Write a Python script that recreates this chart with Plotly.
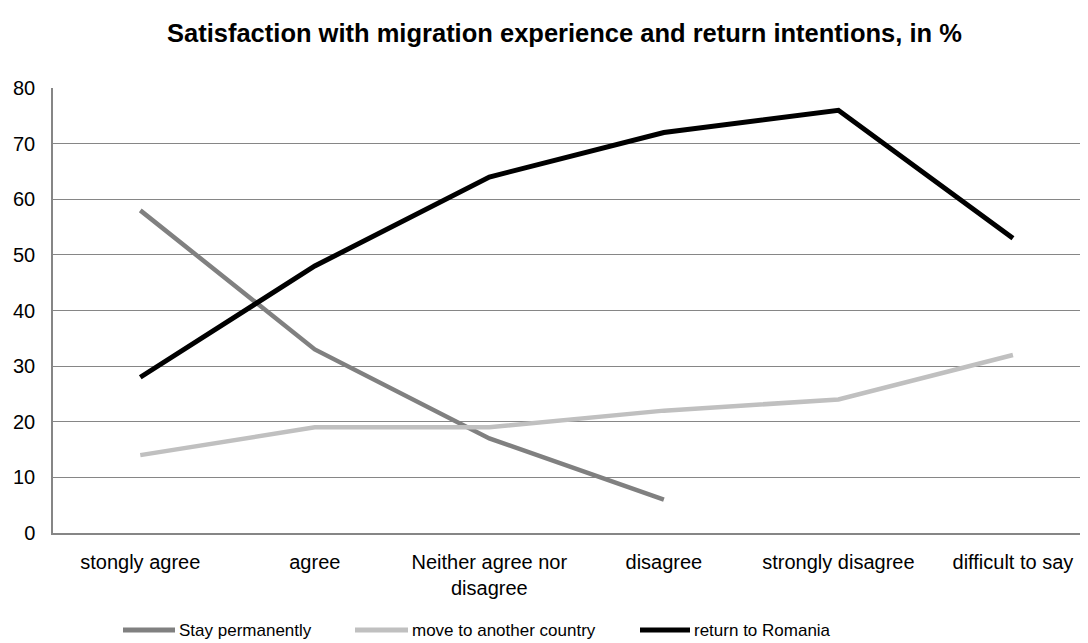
import plotly.graph_objects as go

categories = ["stongly agree", "agree", "Neither agree nor<br>disagree", "disagree",
              "strongly disagree", "difficult to say"]
stay_permanently = [58, 33, 17, 6, None, None]
move_another = [14, 19, 19, 22, 24, 32]
return_romania = [28, 48, 64, 72, 76, 53]
y_ticks = [0, 10, 20, 30, 40, 50, 60, 70, 80]

series_names = ["Stay permanently", "move to another country", "return to Romania"]
series_colors = ["#808080", "#c0c0c0", "#000000"]
series_widths = [4.5, 4.5, 5]

FONT = "Liberation Sans, Arial, sans-serif"
x_idx = list(range(len(categories)))

# page pixel -> paper helpers (page has 8px body margin; plot area 53..1088 x 88..533)
PL, PW, PB, PH = 53, 1035, 533, 445
def px_x(p):
    return (p - PL) / PW
def px_y(p):
    return (PB - p) / PH

fig = go.Figure()
for vals, name, col, w in zip([stay_permanently, move_another, return_romania],
                              series_names, series_colors, series_widths):
    fig.add_trace(go.Scatter(x=x_idx, y=vals, mode="lines", name=name,
                             line=dict(color=col, width=w), connectgaps=False,
                             showlegend=False))

# manual legend (Excel-style long swatches)
legend_line_x = [(123, 175), (355, 408), (640, 690)]
legend_y = 630
shapes = []
annotations = []
for (x0, x1), name, col in zip(legend_line_x, series_names, series_colors):
    shapes.append(dict(type="line", xref="paper", yref="paper",
                       x0=px_x(x0), x1=px_x(x1), y0=px_y(legend_y), y1=px_y(legend_y),
                       line=dict(color=col, width=5)))
    annotations.append(dict(text=name, xref="paper", yref="paper", x=px_x(x1 + 2),
                            xanchor="left", y=px_y(legend_y), yanchor="middle",
                            showarrow=False, font=dict(family=FONT, size=17, color="black")))

annotations.append(dict(text="<b>Satisfaction with migration experience and return intentions, in %</b>",
                        xref="paper", yref="paper", x=px_x(564), xanchor="center",
                        y=px_y(33), yanchor="middle", showarrow=False,
                        font=dict(family=FONT, size=25.5, color="black")))

fig.update_layout(
    width=1080, height=635,
    margin=dict(l=45, r=0, t=80, b=110),
    paper_bgcolor="white", plot_bgcolor="white",
    font=dict(family=FONT, size=20, color="black"),
    showlegend=False,
    shapes=shapes,
    annotations=annotations,
)
fig.update_xaxes(range=[-0.5, 5.43], tickmode="array", tickvals=x_idx, ticktext=categories,
                 showgrid=False, showline=True, linecolor="#868686", linewidth=1.5,
                 ticks="", ticklabelstandoff=10, zeroline=False,
                 tickfont=dict(family=FONT, size=20, color="black"))
fig.update_yaxes(range=[0, 80], tickmode="array", tickvals=y_ticks,
                 showgrid=True, gridcolor="#868686", gridwidth=1,
                 showline=True, linecolor="#868686", linewidth=1.5, zeroline=False,
                 ticks="", ticklabelstandoff=12,
                 tickfont=dict(family=FONT, size=20, color="black"))

fig.write_html("out.html")
